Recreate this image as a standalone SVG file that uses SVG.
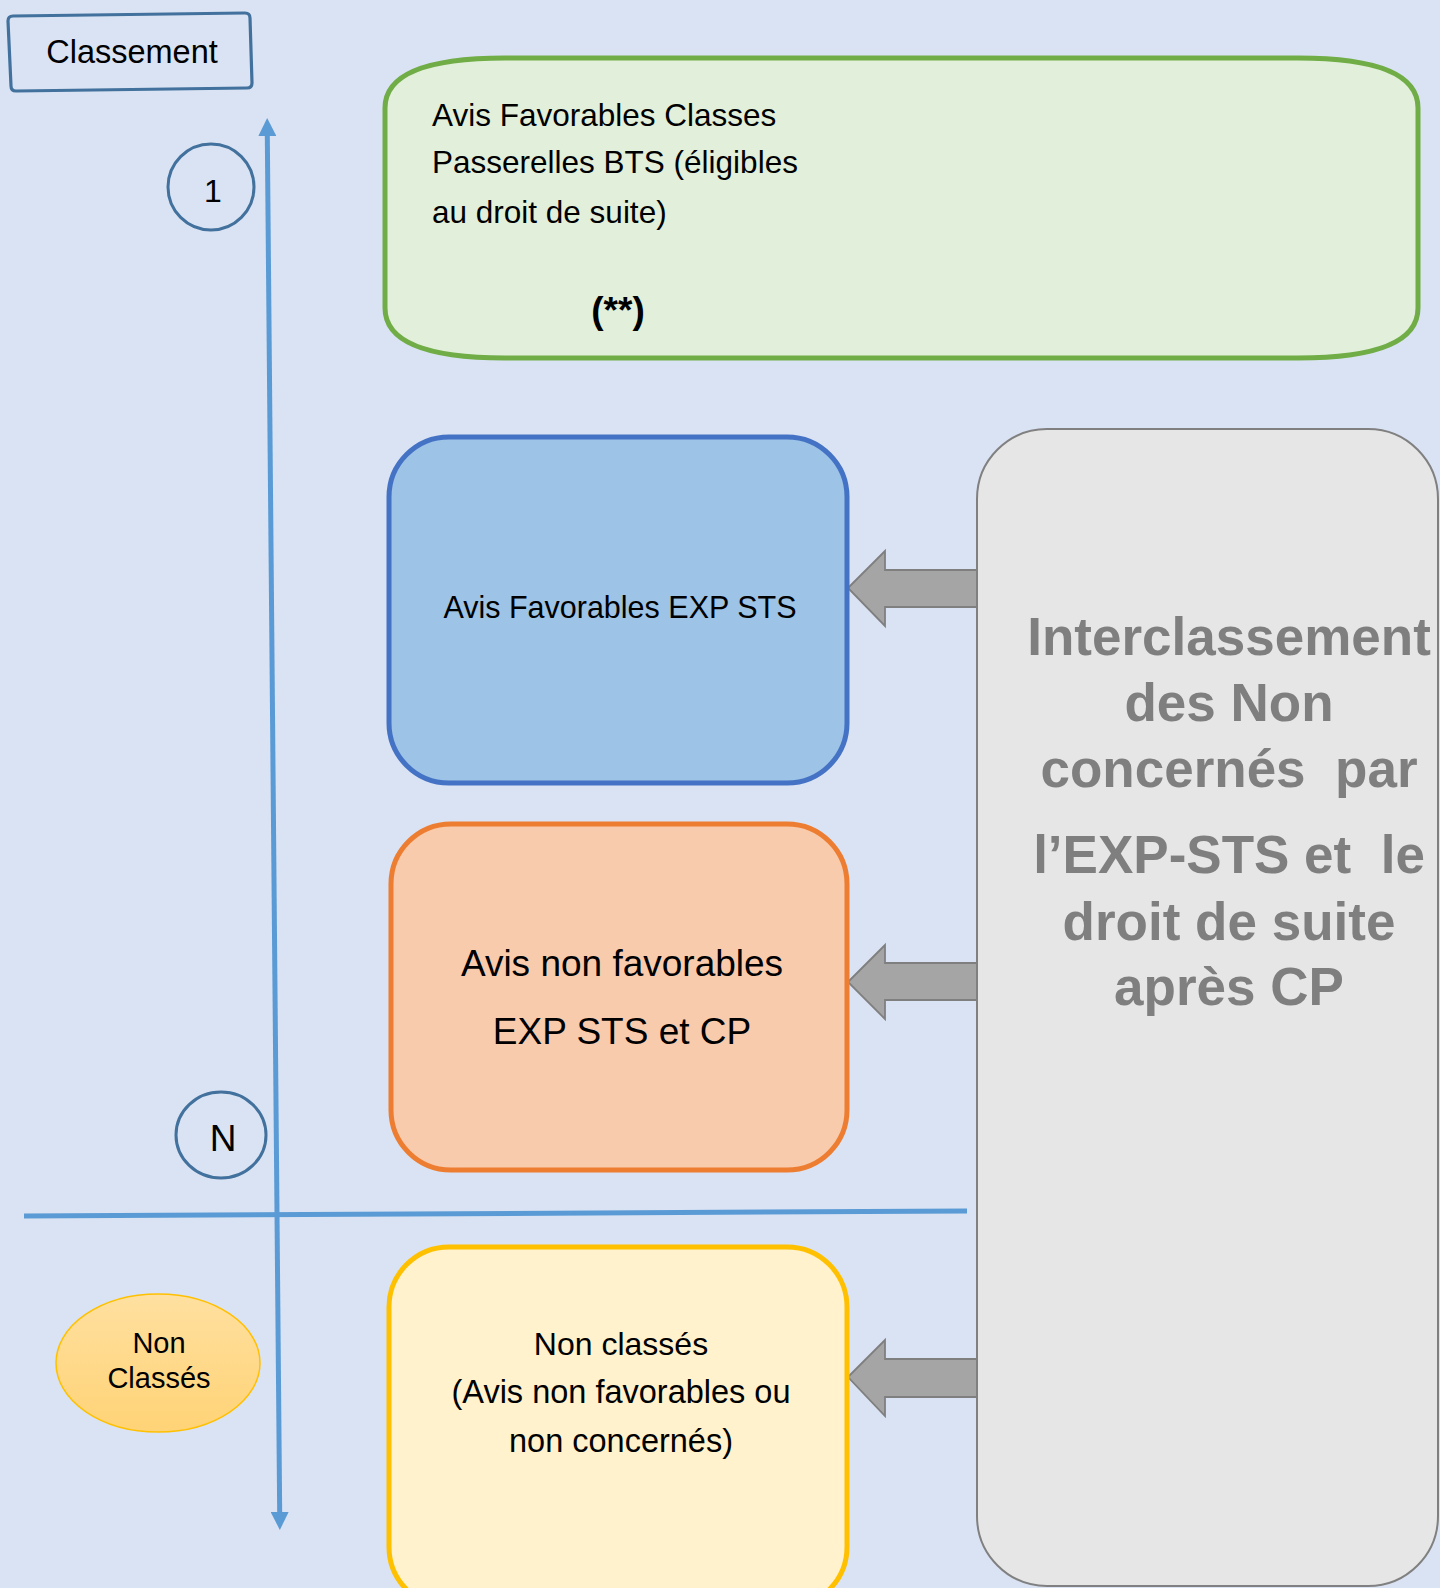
<svg xmlns="http://www.w3.org/2000/svg" width="1440" height="1588" viewBox="0 0 1440 1588">
<defs>
<style>
.cal{font-family:"Liberation Sans",Arial,sans-serif;fill:#000}
.ari{font-family:"Liberation Sans",Arial,sans-serif;fill:#000}
.gt{font-family:"Liberation Sans",Arial,sans-serif;font-weight:bold;font-size:53px;fill:#7f7f7f;white-space:pre}
.barrow{fill:#a5a5a5;stroke:#7f7f7f;stroke-width:1.8;stroke-linejoin:miter}
.axis{stroke:#5b9bd5;stroke-width:5;fill:none}
.ring{fill:none;stroke:#41719c;stroke-width:3}
</style>
<marker id="ah" viewBox="0 0 18 18" refX="2" refY="9" markerWidth="18" markerHeight="18" markerUnits="userSpaceOnUse" orient="auto-start-reverse">
<path d="M0,0 L18,9 L0,18 Z" fill="#5b9bd5"/>
</marker>
<linearGradient id="ng" x1="0" y1="0" x2="0" y2="1">
<stop offset="0" stop-color="#ffe0a0"/>
<stop offset="1" stop-color="#ffd376"/>
</linearGradient>
</defs>
<rect x="0" y="0" width="1440" height="1588" fill="#dae3f3"/>

<g id="connectors">
<line class="axis" x1="267.3" y1="134" x2="279.7" y2="1514" marker-start="url(#ah)" marker-end="url(#ah)"/>
<line class="axis" x1="24" y1="1216" x2="967" y2="1211"/>
<path class="barrow" d="M848,588 L885,551 L885,570 L977,570 L977,607 L885,607 L885,626 Z"/>
<path class="barrow" d="M848,982 L885,945 L885,963 L977,963 L977,1000 L885,1000 L885,1019 Z"/>
<path class="barrow" d="M848,1377 L885,1340 L885,1359 L977,1359 L977,1397 L885,1397 L885,1416 Z"/>
</g>

<g id="classement">
<path d="M13,16 L245,13 Q250,13 250,18 L252,83 Q252,88 247,88 L16,91 Q11,91 11,86 L8,21 Q8,16 13,16 Z" fill="none" stroke="#41719c" stroke-width="3.2"/>
<text class="cal" x="132" y="63" font-size="32.5" text-anchor="middle">Classement</text>
</g>

<g id="rank1">
<ellipse class="ring" cx="211" cy="187" rx="43" ry="43"/>
<text class="cal" x="213" y="202" font-size="32" text-anchor="middle">1</text>
</g>

<g id="rankN">
<ellipse class="ring" cx="221" cy="1135" rx="45" ry="43"/>
<text class="ari" x="223" y="1151" font-size="37" text-anchor="middle">N</text>
</g>

<g id="nonclasses-label">
<ellipse cx="158" cy="1363" rx="102" ry="69" fill="url(#ng)" stroke="#ffc000" stroke-width="1.5"/>
<text class="ari" x="159" y="1353" font-size="29" text-anchor="middle">Non</text>
<text class="ari" x="159" y="1388" font-size="29" text-anchor="middle">Classés</text>
</g>

<g id="passerelles">
<path d="M505,58 L1298,58 Q1418,58 1418,108 L1418,308 Q1418,358 1298,358 L505,358 Q385,358 385,308 L385,108 Q385,58 505,58 Z" fill="#e2efda" stroke="#70ad47" stroke-width="5"/>
<text class="cal" x="432" y="126" font-size="31.5">Avis Favorables Classes</text>
<text class="cal" x="432" y="173" font-size="31.5">Passerelles BTS (éligibles</text>
<text class="cal" x="432" y="223" font-size="31.5">au droit de suite)</text>
<text class="cal" x="618" y="323" font-size="37" font-weight="bold" text-anchor="middle">(**)</text>
</g>

<g id="exp-sts">
<rect x="389" y="437" width="458" height="346" rx="60" ry="60" fill="#9dc3e6" stroke="#4472c4" stroke-width="5"/>
<text class="cal" x="620" y="618" font-size="30.5" text-anchor="middle">Avis Favorables EXP STS</text>
</g>

<g id="non-favorables">
<rect x="391" y="824" width="456" height="346" rx="60" ry="60" fill="#f8cbad" stroke="#ed7d31" stroke-width="5"/>
<text class="ari" x="622" y="976" font-size="37" text-anchor="middle">Avis non favorables</text>
<text class="ari" x="622" y="1044" font-size="37" text-anchor="middle">EXP STS et CP</text>
</g>

<g id="non-classes">
<rect x="389" y="1247" width="458" height="360" rx="60" ry="60" fill="#fff2cc" stroke="#ffc000" stroke-width="5"/>
<text class="cal" x="621" y="1355" font-size="32" text-anchor="middle">Non classés</text>
<text class="cal" x="621" y="1403" font-size="32.5" text-anchor="middle">(Avis non favorables ou</text>
<text class="cal" x="621" y="1452" font-size="32.5" text-anchor="middle">non concernés)</text>
</g>

<g id="interclassement">
<rect x="977" y="429" width="461" height="1157" rx="70" ry="70" fill="#e7e6e6" stroke="#808080" stroke-width="2"/>
<text class="gt" x="1229" y="655" text-anchor="middle">Interclassement</text>
<text class="gt" x="1229" y="721" text-anchor="middle">des Non</text>
<text class="gt" x="1229" y="787" text-anchor="middle">concernés  par</text>
<text class="gt" x="1229" y="873" text-anchor="middle">l’EXP-STS et  le</text>
<text class="gt" x="1229" y="940" text-anchor="middle">droit de suite</text>
<text class="gt" x="1229" y="1005" text-anchor="middle">après CP</text>
</g>
</svg>
